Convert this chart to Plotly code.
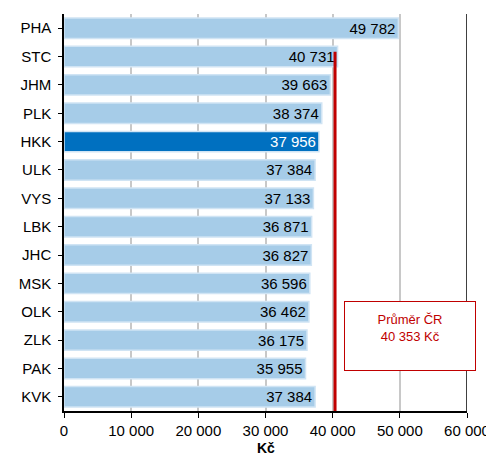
import plotly.graph_objects as go

regions = ["PHA", "STC", "JHM", "PLK", "HKK", "ULK", "VYS", "LBK", "JHC", "MSK", "OLK", "ZLK", "PAK", "KVK"]
wages = [49782, 40731, 39663, 38374, 37956, 37384, 37133, 36871, 36827, 36596, 36462, 36175, 35955, 37384]
average = 40353
x_ticks = [0, 10000, 20000, 30000, 40000, 50000, 60000]


def fmt(v):
    return f"{v:,}".replace(",", " ")


colors = ["#0070C0" if r == "HKK" else "#A6CCE8" for r in regions]
text_colors = ["white" if r == "HKK" else "black" for r in regions]

fig = go.Figure()
fig.add_trace(go.Bar(
    y=regions, x=wages, orientation="h",
    marker=dict(color=colors, line=dict(color="#D0E4F4", width=1.5)),
    width=0.72,
    text=[fmt(v) for v in wages],
    textposition="inside", insidetextanchor="end", constraintext="none",
    textfont=dict(family="Arial, Liberation Sans", size=15, color=text_colors),
    cliponaxis=False,
))
fig.add_shape(type="line", x0=average, x1=average, y0=0, y1=0.905, yref="paper",
              line=dict(color="#C00000", width=3))
fig.add_shape(type="line", x0=60000, x1=60000, y0=0, y1=1, yref="paper",
              line=dict(color="black", width=1.5))
fig.add_annotation(
    x=average + 1300, y=0.19, yref="paper", xanchor="left", yanchor="middle",
    text="Průměr ČR<br>40 353 Kč<br> ", showarrow=False,
    font=dict(family="Arial, Liberation Sans", size=13, color="#C00000"),
    bordercolor="#C00000", borderwidth=1, borderpad=4, bgcolor="white",
    width=122, height=60,
)
fig.add_annotation(
    x=0.5, y=-0.093, xref="paper", yref="paper", yanchor="middle",
    text="<b>Kč</b>", showarrow=False, font=dict(size=14),
)

fig.update_layout(
    width=486, height=450,
    margin=dict(l=56, r=27, t=6, b=47),
    plot_bgcolor="white", paper_bgcolor="white",
    showlegend=False,
    font=dict(family="Arial, Liberation Sans", size=15, color="black"),
)
fig.update_xaxes(
    range=[0, 60000], tickvals=x_ticks, ticktext=[fmt(v) for v in x_ticks],
    showgrid=True, gridcolor="#C8C8C8", gridwidth=1.5,
    showline=True, linecolor="black", linewidth=1.5,
    ticks="outside", ticklen=5, tickcolor="black",
    zeroline=False, automargin=False,
)
fig.update_yaxes(
    autorange="reversed", showline=True, linecolor="black", linewidth=1.5,
    ticks="outside", ticklen=4, tickcolor="black", ticklabelstandoff=4,
    automargin=False,
)

fig.write_html("out.html")
